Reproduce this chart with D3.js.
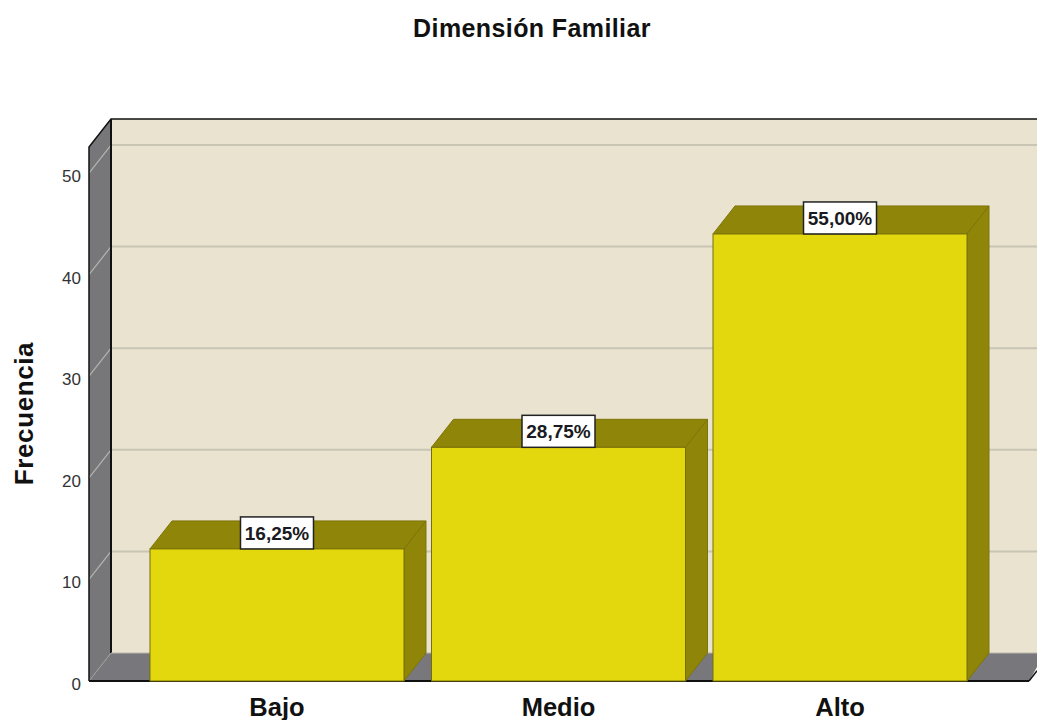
<!DOCTYPE html>
<html><head><meta charset="utf-8">
<script src="https://cdnjs.cloudflare.com/ajax/libs/d3/7.8.5/d3.min.js"></script>
<style>html,body{margin:0;padding:0;background:#fff}svg{display:block}text{font-family:"Liberation Sans",Arial,sans-serif}</style>
</head><body><div id="chart"></div>
<script>
const categories = ["Bajo","Medio","Alto"];
const frequencies = [13,23,44];
const percentLabels = ["16,25%","28,75%","55,00%"];
const yTicks = [0,10,20,30,40,50];
const chartTitle = "Dimensión Familiar";
const yAxisTitle = "Frecuencia";

const W=1037,H=720;
const svg=d3.select("#chart").append("svg").attr("width",W).attr("height",H);
const y=d3.scaleLinear().domain([0,52.56]).range([681,147]);
const x=d3.scaleBand().domain(categories).range([136.25,980.75]).paddingInner(0.0977).paddingOuter(0.0488);
const dx=22,dy=-28;
const pts=a=>a.map(p=>p.join(",")).join(" ");
const frontLeft=89, wallLeft=frontLeft+dx, wallTop=y(52.56)+dy, floorBack=y(0)+dy, rightFront=1029;

svg.append("rect").attr("x",wallLeft).attr("y",wallTop).attr("width",W-wallLeft).attr("height",floorBack-wallTop).attr("fill","#e9e3cf");
svg.append("polygon").attr("points",pts([[frontLeft,y(0)],[frontLeft,y(52.56)],[wallLeft,wallTop],[wallLeft,floorBack]])).attr("fill","#77777a");
svg.append("polygon").attr("points",pts([[frontLeft,y(0)],[wallLeft,floorBack],[W+8,floorBack],[rightFront,y(0)]])).attr("fill","#77777c");
yTicks.slice(1).forEach(t=>{
  svg.append("line").attr("x1",wallLeft).attr("x2",W).attr("y1",y(t)+dy).attr("y2",y(t)+dy).attr("stroke","#c9c5b4").attr("stroke-width",2);
  svg.append("line").attr("x1",frontLeft).attr("x2",wallLeft).attr("y1",y(t)).attr("y2",y(t)+dy).attr("stroke","#b4b4b0").attr("stroke-width",1.2);
});
svg.append("line").attr("x1",frontLeft).attr("x2",wallLeft).attr("y1",y(0)).attr("y2",floorBack).attr("stroke","#a0a09e").attr("stroke-width",1);
svg.append("path").attr("d",`M${frontLeft},${y(0)}V${y(52.56)}L${wallLeft},${wallTop}H${W}`).attr("fill","none").attr("stroke","#111").attr("stroke-width",1.5);
svg.append("line").attr("x1",wallLeft).attr("x2",wallLeft).attr("y1",wallTop).attr("y2",floorBack).attr("stroke","#111").attr("stroke-width",2);
svg.append("line").attr("x1",wallLeft).attr("x2",W).attr("y1",floorBack).attr("y2",floorBack).attr("stroke","#b9b6a8").attr("stroke-width",1);
svg.append("line").attr("x1",frontLeft).attr("x2",rightFront).attr("y1",y(0)).attr("y2",y(0)).attr("stroke","#111").attr("stroke-width",2);
svg.append("line").attr("x1",rightFront).attr("x2",W).attr("y1",y(0)).attr("y2",y(0)-8*28/22).attr("stroke","#111").attr("stroke-width",1.5);

const bars=svg.selectAll("g.bar").data(categories.map((c,i)=>({c,v:frequencies[i],p:percentLabels[i]}))).join("g").attr("class","bar");
bars.append("polygon").attr("points",d=>{const l=x(d.c),r=l+x.bandwidth(),t=y(d.v);return pts([[l,t],[l+dx,t+dy],[r+dx,t+dy],[r,t]]);}).attr("fill","#8f8508").attr("stroke","#7d7508").attr("stroke-width",1);
bars.append("polygon").attr("points",d=>{const r=x(d.c)+x.bandwidth(),t=y(d.v);return pts([[r,t],[r+dx,t+dy],[r+dx,y(0)+dy],[r,y(0)]]);}).attr("fill","#8f8508").attr("stroke","#7d7508").attr("stroke-width",1);
bars.append("rect").attr("x",d=>x(d.c)).attr("y",d=>y(d.v)).attr("width",x.bandwidth()).attr("height",d=>y(0)-y(d.v)).attr("fill","#e3d70e").attr("stroke","#77700a").attr("stroke-width",1);
bars.append("rect").attr("x",d=>x(d.c)+x.bandwidth()/2-36.5).attr("y",d=>y(d.v)-32).attr("width",73).attr("height",32).attr("fill","#fff").attr("stroke","#222").attr("stroke-width",1.5);
bars.append("text").attr("x",d=>x(d.c)+x.bandwidth()/2).attr("y",d=>y(d.v)-9).attr("text-anchor","middle").attr("font-size",19).attr("font-weight","bold").attr("fill","#1a1a22").text(d=>d.p);

svg.append("g").selectAll("text").data(yTicks).join("text").attr("x",81).attr("y",d=>y(d)+9).attr("text-anchor","end").attr("font-size",17).attr("fill","#333").text(d=>d);
svg.append("g").selectAll("text").data(categories).join("text").attr("x",d=>x(d)+x.bandwidth()/2).attr("y",716).attr("text-anchor","middle").attr("font-size",25.5).attr("font-weight","bold").attr("fill","#111").text(d=>d);
svg.append("text").attr("x",532).attr("y",37).attr("text-anchor","middle").attr("font-size",25).attr("font-weight","bold").attr("letter-spacing",0.4).attr("fill","#111").text(chartTitle);
svg.append("text").attr("transform","translate(33,413.5) rotate(-90)").attr("text-anchor","middle").attr("font-size",26).attr("font-weight","bold").attr("letter-spacing",0.6).attr("fill","#111").text(yAxisTitle);
</script></body></html>
